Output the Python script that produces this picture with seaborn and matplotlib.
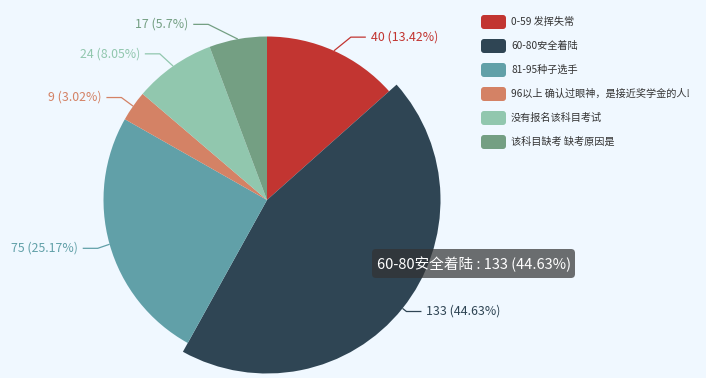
import numpy as np
import matplotlib
matplotlib.use("Agg")
import matplotlib.pyplot as plt
from matplotlib.patches import FancyBboxPatch
import seaborn as sns

categories = ["0-59 发挥失常", "60-80安全着陆", "81-95种子选手",
              "96以上 确认过眼神，是接近奖学金的人!", "没有报名该科目考试", "该科目缺考 缺考原因是"]
values = [40, 133, 75, 9, 24, 17]
percent_labels = ["13.42%", "44.63%", "25.17%", "3.02%", "8.05%", "5.7%"]
highlight = 1
colors = sns.color_palette(["#c23531", "#2f4554", "#61a0a8", "#d48265", "#91c7ae", "#749f83"])

sns.set_theme(style="white")
plt.rcParams["font.family"] = ["Noto Sans CJK SC", "DejaVu Sans"]

W, H = 706, 378
BG = "#f0f8ff"
fig = plt.figure(figsize=(W / 100, H / 100), dpi=100, facecolor=BG)
ax = fig.add_axes([0, 0, 1, 1])
ax.set_facecolor(BG)

cx, cy, r = 267, 200, 163.5
Y = lambda y: H - y

wedges, _ = ax.pie(values, colors=colors, startangle=90, counterclock=False,
                   center=(cx, Y(cy)), radius=r, frame=True,
                   wedgeprops=dict(linewidth=0))
wedges[highlight].set_radius(r + 10)

ax.set_xlim(0, W)
ax.set_ylim(0, H)
ax.set_aspect("equal")
ax.axis("off")

# outside labels with leader lines (echarts-like layout)
total = sum(values)
cum = 0
len1, len2 = 15, 15
for i, v in enumerate(values):
    mid = np.deg2rad((cum + v / 2) / total * 360)
    cum += v
    dx, dy = np.sin(mid), np.cos(mid)  # dy: up
    r0 = r + (10 if i == highlight else 0)
    x1, y1 = cx + r0 * dx, cy - r0 * dy
    ly = cy - (r + len1) * dy
    side = 1 if dx >= 0 else -1
    R = r + len1 + 12
    dyy = abs(ly - cy)
    x3 = cx + side * np.sqrt(max(R * R - dyy * dyy, 0))
    x2 = x3 - side * len2
    col = colors[i]
    ax.plot([x1, x2, x3], [Y(y1), Y(ly), Y(ly)], color=col, lw=0.9,
            solid_capstyle="butt")
    ax.text(x3 + side * 5, Y(ly), f"{v} ({percent_labels[i]})", color=col,
            fontsize=8.9, ha="left" if side > 0 else "right", va="center")

# legend
lx, ly0, step = 481, 22, 24
for i, name in enumerate(categories):
    yy = ly0 + i * step
    ax.add_patch(FancyBboxPatch((lx + 2, Y(yy) - 5), 21, 10,
                                boxstyle="round,pad=2,rounding_size=3",
                                facecolor=colors[i], edgecolor="none"))
    ax.text(511, Y(yy), name, fontsize=7.3, color="#333333",
            ha="left", va="center")

# tooltip
tip = categories[highlight] + " : " + f"{values[highlight]} ({percent_labels[highlight]})"
ax.add_patch(FancyBboxPatch((376, Y(274)), 195, 21,
                            boxstyle="round,pad=4,rounding_size=4",
                            facecolor=(50/255, 50/255, 50/255, 0.7), edgecolor="none"))
ax.text(474, Y(264), tip, fontsize=10.5, color="white", ha="center", va="center")

fig.savefig("out.png", dpi=100, facecolor=BG)
